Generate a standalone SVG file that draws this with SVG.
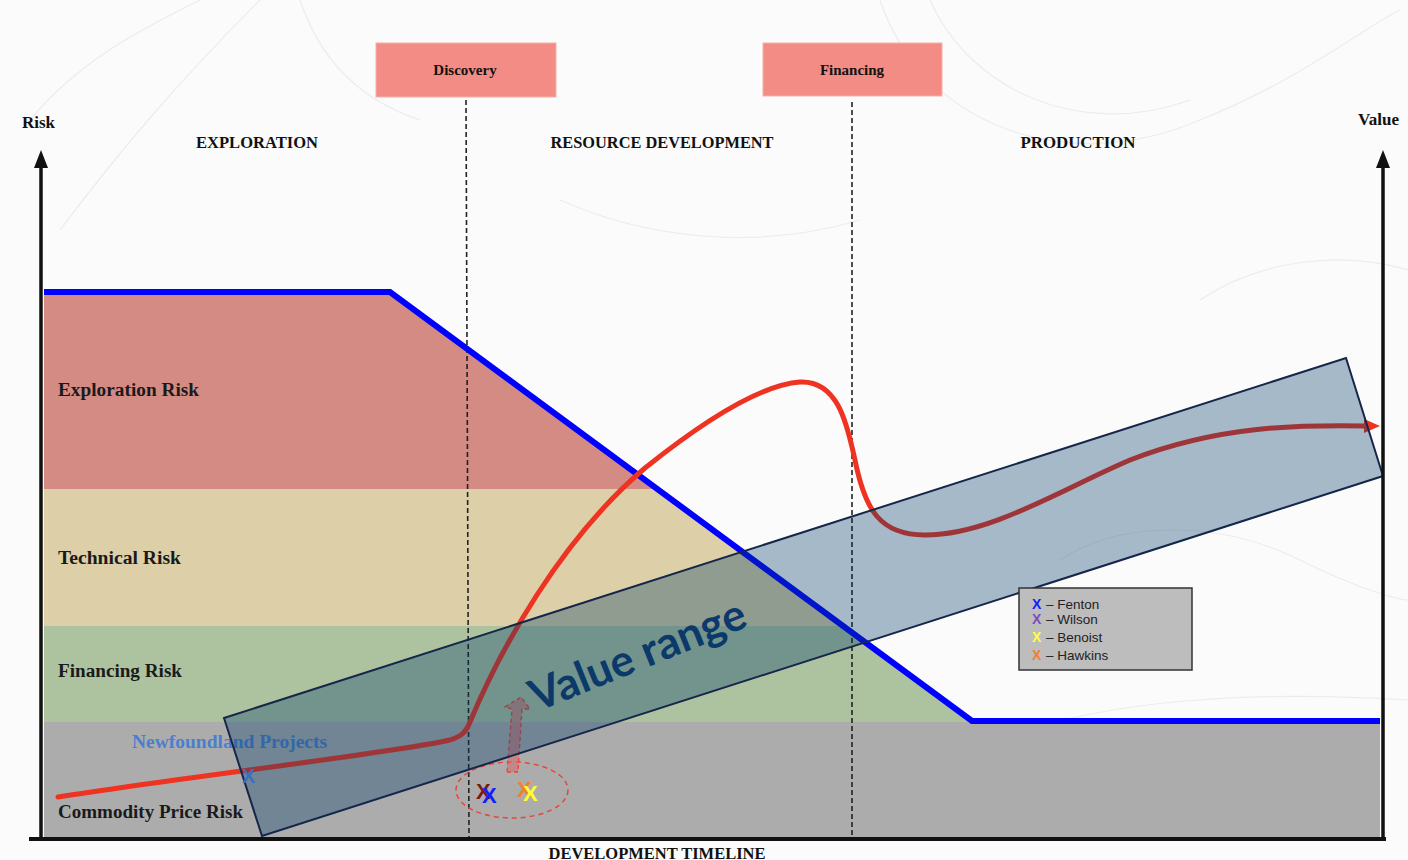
<svg xmlns="http://www.w3.org/2000/svg" width="1408" height="860" viewBox="0 0 1408 860">
<defs>
<style>
.hd{font-family:"Liberation Serif","DejaVu Serif",serif;font-weight:bold;fill:#111;}
.lbl{font-family:"Liberation Serif","DejaVu Serif",serif;font-weight:bold;fill:#1a1a1a;font-size:18.5px;}
.leg{font-family:"Liberation Sans",Arial,sans-serif;font-size:13.5px;fill:#222;}
.xm{font-family:"Liberation Sans",Arial,sans-serif;font-weight:bold;}
.topo{fill:none;stroke:#ececec;stroke-width:1.2;}
.dash{stroke:#222;stroke-width:1.6;stroke-dasharray:5,3;fill:none;}
</style>
<clipPath id="under">
<polygon points="44,292 390,292 972,721 1380,721 1380,838 44,838"/>
</clipPath>
</defs>
<rect x="0" y="0" width="1408" height="860" fill="#fbfbfb"/>
<g id="topography">
<path class="topo" d="M30,120 C80,60 140,30 200,0"/>
<path class="topo" d="M60,230 C120,150 180,80 260,0"/>
<path class="topo" d="M880,0 C920,120 1060,180 1200,120 C1300,80 1360,30 1400,10"/>
<path class="topo" d="M930,0 C970,90 1080,140 1190,100"/>
<path class="topo" d="M1200,300 C1260,260 1340,250 1408,270"/>
<path class="topo" d="M1000,740 C1100,700 1250,690 1408,700"/>
<path class="topo" d="M300,0 C320,60 360,100 420,120"/>
<path class="topo" d="M560,200 C650,240 760,250 860,220"/>
<path class="topo" d="M1060,560 C1120,520 1220,520 1300,560 C1360,590 1400,600 1408,600"/>
</g>
<g id="bands" clip-path="url(#under)">
<rect x="44" y="292" width="1340" height="197" fill="#d48b84"/>
<rect x="44" y="489" width="1340" height="137" fill="#ddcfa8"/>
<rect x="44" y="626" width="1340" height="96" fill="#adc3a0"/>
<rect x="44" y="722" width="1340" height="116" fill="#acacac"/>
</g>
<g id="band-labels">
<text class="lbl" x="58" y="396" textLength="141" lengthAdjust="spacingAndGlyphs">Exploration Risk</text>
<text class="lbl" x="58" y="564" textLength="123" lengthAdjust="spacingAndGlyphs">Technical Risk</text>
<text class="lbl" x="58" y="677" textLength="124" lengthAdjust="spacingAndGlyphs">Financing Risk</text>
<text class="lbl" x="58" y="818" textLength="185" lengthAdjust="spacingAndGlyphs">Commodity Price Risk</text>
<text x="132" y="748" font-family="Liberation Serif, DejaVu Serif, serif" font-weight="bold" font-size="18.5" fill="#4a7fcf" textLength="195" lengthAdjust="spacingAndGlyphs">Newfoundland Projects</text>
</g>
<g id="connectors">
<line class="dash" x1="466" y1="100" x2="469" y2="838"/>
<line class="dash" x1="852" y1="102" x2="852" y2="838"/>
<polyline points="44,292 390,292 972,721 1380,721" fill="none" stroke="#0000ff" stroke-width="6" stroke-linejoin="miter"/>
<path d="M58,797 C200,775 400,752 450,740 C462,736 466,732 470,722 C500,650 560,540 645,468 C705,420 760,385 800,382 C840,380 848,430 855,460 C865,510 880,535 925,535 C990,535 1060,490 1130,460 C1220,425 1300,425 1365,426" fill="none" stroke="#ee3322" stroke-width="5" stroke-linecap="round"/>
<polygon points="1364,419 1380,426 1364,433" fill="#ee3322"/>
<ellipse cx="512" cy="790" rx="56" ry="28" fill="none" stroke="#e8463c" stroke-width="1.5" stroke-dasharray="5,4"/>
<polygon points="507,772 518,772 522,709 530,709 521,697 505,707 512,709" fill="#d96a6a" fill-opacity="0.55" stroke="#e8463c" stroke-width="1.3" stroke-dasharray="4,3"/>
</g>
<g id="value-range">
<polygon points="224,718 1346,358 1383,476 262,836" fill="#003a66" fill-opacity="0.34" stroke="#15264a" stroke-width="2"/>
<text x="638" y="670" transform="rotate(-22 638 656)" text-anchor="middle" font-family="Lato, 'Open Sans', sans-serif" font-weight="bold" font-size="44" fill="#0b3a6a">Value range</text>
</g>
<g id="markers">
<text class="xm" x="242" y="783" font-size="20" fill="#3a6fc0">X</text>
<text class="xm" x="476" y="799" font-size="22" fill="#7a1a10">X</text>
<text class="xm" x="482" y="803" font-size="22" fill="#1020ff">X</text>
<text class="xm" x="517" y="797" font-size="22" fill="#f08030">X</text>
<text class="xm" x="523" y="801" font-size="22" fill="#ffff30">X</text>
</g>
<g id="legend">
<rect x="1019" y="588" width="173" height="82" fill="#bdbdbd" stroke="#333" stroke-width="1.5"/>
<text class="xm" x="1032" y="609" font-size="14" fill="#1020ff">X</text><text class="leg" x="1046" y="609">– Fenton</text>
<text class="xm" x="1032" y="624" font-size="14" fill="#7a4fbf">X</text><text class="leg" x="1046" y="624">– Wilson</text>
<text class="xm" x="1032" y="642" font-size="14" fill="#ffff40">X</text><text class="leg" x="1046" y="642">– Benoist</text>
<text class="xm" x="1032" y="660" font-size="14" fill="#f08030">X</text><text class="leg" x="1046" y="660">– Hawkins</text>
</g>
<g id="axes">
<line x1="41" y1="165" x2="41" y2="838" stroke="#111" stroke-width="3.5"/>
<polygon points="34,168 41,150 48,168" fill="#111"/>
<line x1="1383" y1="165" x2="1383" y2="838" stroke="#111" stroke-width="3.5"/>
<polygon points="1376,168 1383,150 1390,168" fill="#111"/>
<line x1="29" y1="839" x2="1386" y2="839" stroke="#111" stroke-width="4"/>
<text class="hd" x="22" y="128" font-size="17">Risk</text>
<text class="hd" x="1358" y="125" font-size="17">Value</text>
<text class="hd" x="657" y="859" font-size="16" text-anchor="middle" textLength="217" lengthAdjust="spacingAndGlyphs">DEVELOPMENT TIMELINE</text>
</g>
<g id="phases">
<text class="hd" x="257" y="148" font-size="17" text-anchor="middle" textLength="122" lengthAdjust="spacingAndGlyphs">EXPLORATION</text>
<text class="hd" x="662" y="148" font-size="17" text-anchor="middle" textLength="223" lengthAdjust="spacingAndGlyphs">RESOURCE DEVELOPMENT</text>
<text class="hd" x="1078" y="148" font-size="17" text-anchor="middle" textLength="115" lengthAdjust="spacingAndGlyphs">PRODUCTION</text>
</g>
<g id="discovery">
<rect x="376" y="43" width="180" height="54" fill="#f28c84" stroke="#f4b0aa" stroke-width="1"/>
<text class="hd" x="465" y="75" font-size="15" text-anchor="middle">Discovery</text>
</g>
<g id="financing">
<rect x="763" y="43" width="179" height="53" fill="#f28c84" stroke="#f4b0aa" stroke-width="1"/>
<text class="hd" x="852" y="75" font-size="15" text-anchor="middle">Financing</text>
</g>
</svg>
